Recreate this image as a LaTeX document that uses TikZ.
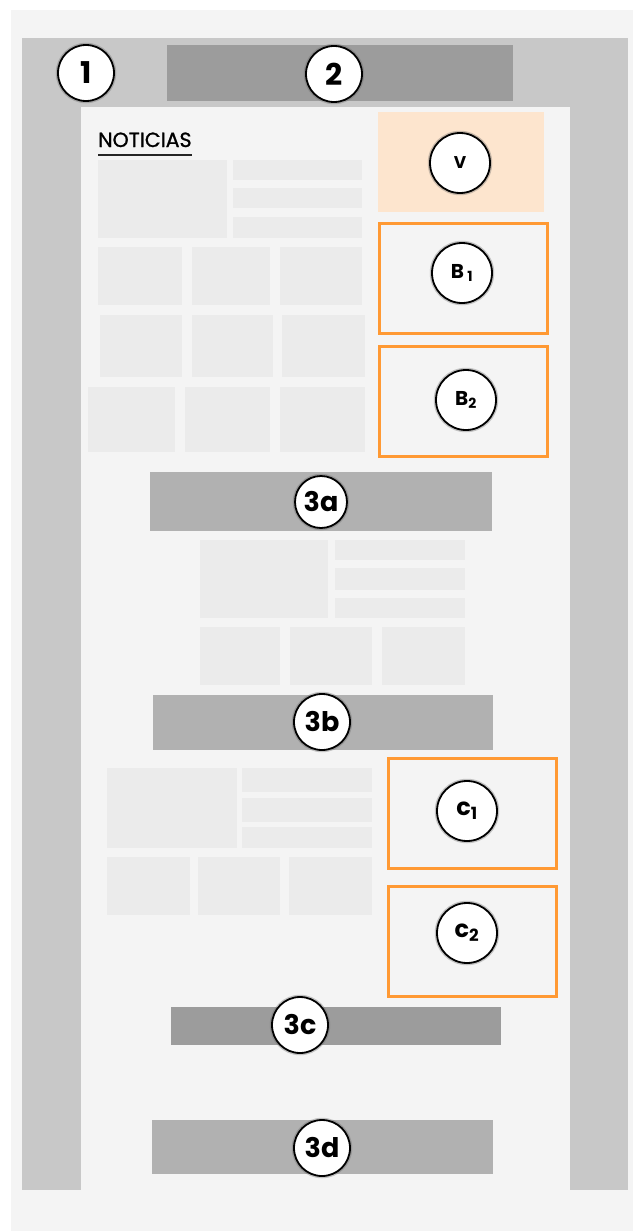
\documentclass[tikz,border=0pt]{standalone}
\usepackage{fontspec}
\setmainfont{Poppins}
\usetikzlibrary{positioning}
\definecolor{pagebg}{RGB}{244,244,244}
\definecolor{framegray}{RGB}{200,200,200}
\definecolor{bardark}{RGB}{156,156,156}
\definecolor{barlight}{RGB}{177,177,177}
\definecolor{tilegray}{RGB}{235,235,235}
\definecolor{peach}{RGB}{253,229,206}
\definecolor{adorange}{RGB}{255,153,51}
\tikzset{
  tile/.style={fill=tilegray},
  darkbar/.style={fill=bardark},
  lightbar/.style={fill=barlight},
  adbox/.style={draw=adorange, line width=3pt},
  marker/.style={circle, draw=black, fill=white, line width=1.8pt,
    minimum size=56pt, inner sep=0pt, font=\bfseries\fontsize{27}{27}\selectfont,
    preaction={draw=black!60, line width=4.5pt, opacity=0.35}},
  smallmarker/.style={marker, minimum size=60pt, font=\bfseries\fontsize{20}{20}\selectfont}
}

\begin{document}
\begin{tikzpicture}[x=1pt, y=-1pt]
  \useasboundingbox (0,0) rectangle (639,1231);

  % Page and frame
  \fill[white] (0,0) rectangle (639,1231);
  \fill[pagebg] (11,10) rectangle (633,1231);
  \fill[framegray] (22,38) rectangle (628,1190);
  \fill[pagebg] (81,107) rectangle (570,1231);
  \fill[darkbar] (167,45) rectangle (513,101);

  % News block
  \node[anchor=base west, inner sep=0pt, font=\fontsize{20.5}{20.5}\selectfont\addfontfeatures{FakeBold=1.2}] (news) at (98,147) {NOTICIAS};
  \draw[line width=2.8pt, black!85] ([yshift=-8pt]news.base west) -- ([yshift=-8pt]news.base east);
  \fill[tile] (98,160) rectangle (227,238);
  \fill[tile] (233,160) rectangle (362,180);
  \fill[tile] (233,188) rectangle (362,208);
  \fill[tile] (233,217) rectangle (362,238);
  \fill[tile] (98,247) rectangle (182,305);
  \fill[tile] (192,247) rectangle (270,305);
  \fill[tile] (280,247) rectangle (362,305);
  \fill[tile] (100,315) rectangle (182,377);
  \fill[tile] (192,315) rectangle (273,377);
  \fill[tile] (282,315) rectangle (365,377);
  \fill[tile] (88,387) rectangle (175,452);
  \fill[tile] (185,387) rectangle (270,452);
  \fill[tile] (280,387) rectangle (365,452);

  % Middle block
  \fill[tile] (200,540) rectangle (328,618);
  \fill[tile] (335,540) rectangle (465,560);
  \fill[tile] (335,568) rectangle (465,590);
  \fill[tile] (335,598) rectangle (465,618);
  \fill[tile] (200,627) rectangle (280,685);
  \fill[tile] (290,627) rectangle (372,685);
  \fill[tile] (382,627) rectangle (465,685);

  % Lower block
  \fill[tile] (107,768) rectangle (237,848);
  \fill[tile] (242,768) rectangle (372,792);
  \fill[tile] (242,798) rectangle (372,822);
  \fill[tile] (242,827) rectangle (372,848);
  \fill[tile] (107,857) rectangle (190,915);
  \fill[tile] (198,857) rectangle (280,915);
  \fill[tile] (289,857) rectangle (372,915);

  % Ad slots
  \fill[peach] (378,112) rectangle (544,212);
  \draw[adbox] (379,223) rectangle (547,333);
  \draw[adbox] (379,346) rectangle (547,456);
  \draw[adbox] (388,758) rectangle (556,868);
  \draw[adbox] (388,886) rectangle (556,996);

  % Bars
  \fill[lightbar] (150,472) rectangle (492,531);
  \fill[lightbar] (153,695) rectangle (493,750);
  \fill[darkbar] (171,1007) rectangle (501,1045);
  \fill[lightbar] (152,1120) rectangle (493,1174);

  % Markers
  \node[marker, font=\bfseries\fontsize{30}{30}\selectfont] (m1) at (86,73) {1};
  \node[marker, font=\bfseries\fontsize{30}{30}\selectfont] (m2) at (334,74) {2};
  \node[smallmarker, font=\bfseries\fontsize{17}{17}\selectfont] (mv) at (460,163) {V};
  \node[smallmarker] (mb1) at (462,273) {B\,\textsubscript{1}};
  \node[smallmarker] (mb2) at (466,400) {B\textsubscript{2}};
  \node[marker, minimum size=52pt] (m3a) at (321,502) {3a};
  \node[marker] (m3b) at (322,722) {3b};
  \node[smallmarker, font=\bfseries\fontsize{24}{24}\selectfont] (mc1) at (467,811) {c\textsubscript{1}};
  \node[smallmarker, font=\bfseries\fontsize{24}{24}\selectfont] (mc2) at (467,933) {c\textsubscript{2}};
  \node[marker] (m3c) at (300,1025) {3c};
  \node[marker] (m3d) at (322,1148) {3d};

\end{tikzpicture}
\end{document}
